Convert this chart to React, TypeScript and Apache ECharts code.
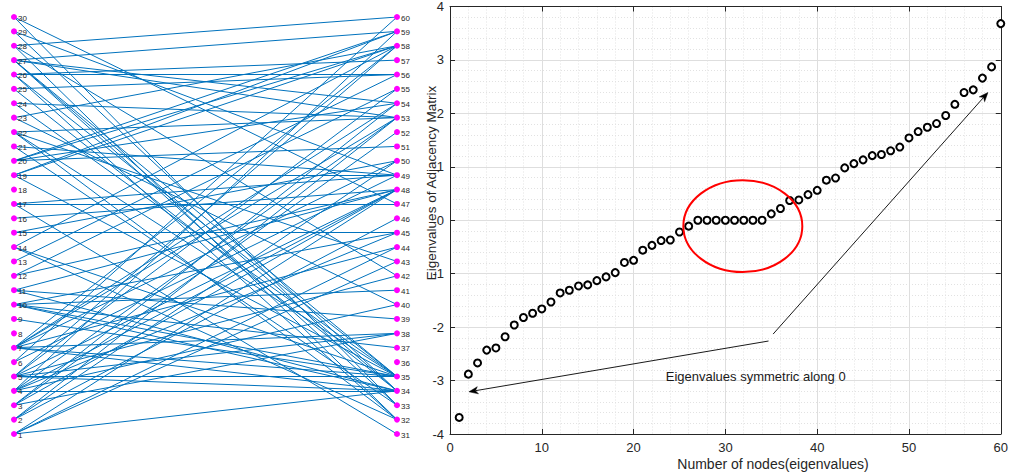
import React, { useEffect, useRef } from "react";
import * as echarts from "echarts";

// ---- data ----
const leftNodes = [1,2,3,4,5,6,7,8,9,10,11,12,13,14,15,16,17,18,19,20,21,22,23,24,25,26,27,28,29,30];
const rightNodes = [31,32,33,34,35,36,37,38,39,40,41,42,43,44,45,46,47,48,49,50,51,52,53,54,55,56,57,58,59,60];
const edges: [number, number][] = [
  [30,47],[30,33],
  [29,49],[29,34],
  [28,60],[28,32],[28,42],
  [27,59],[27,54],[27,53],[27,35],[27,34],[27,33],
  [26,57],[26,56],[26,35],[26,32],
  [25,56],[25,34],
  [24,53],[24,35],
  [23,58],[23,40],
  [22,53],[22,43],[22,35],[22,32],
  [21,49],[21,33],
  [20,58],[20,59],[20,54],[20,51],
  [19,58],[19,59],[19,49],[19,35],
  [17,47],[17,49],[17,31],
  [16,48],
  [15,50],[15,45],
  [14,58],[14,35],[14,32],
  [13,56],
  [12,55],[12,48],
  [11,48],[11,34],[11,39],
  [10,41],[10,45],[10,35],[10,37],[10,34],
  [9,35],
  [7,38],[7,35],[7,34],[7,53],[7,54],[7,58],[7,44],[7,50],
  [6,60],[6,49],
  [5,38],[5,35],[5,34],[5,58],[5,55],[5,48],[5,42],
  [4,34],[4,59],[4,53],[4,48],[4,45],[4,40],
  [3,54],[3,48],[3,52],[3,38],
  [2,53],[2,50],[2,46],
  [1,34],[1,48],[1,44],[1,43],
];
const eigIndex = [1,2,3,4,5,6,7,8,9,10,11,12,13,14,15,16,17,18,19,20,21,22,23,24,25,26,27,28,29,30,31,32,33,34,35,36,37,38,39,40,41,42,43,44,45,46,47,48,49,50,51,52,53,54,55,56,57,58,59,60];
const eigenvalues = [
  -3.69,-2.88,-2.67,-2.43,-2.39,-2.18,-1.96,-1.82,-1.74,-1.66,
  -1.53,-1.36,-1.31,-1.23,-1.21,-1.13,-1.06,-0.98,-0.79,-0.75,
  -0.56,-0.47,-0.38,-0.37,-0.22,-0.11,0,0,0,0,
  0,0,0,0,0.12,0.22,0.37,0.38,0.48,0.56,
  0.75,0.79,0.98,1.06,1.13,1.21,1.23,1.30,1.37,1.54,
  1.66,1.74,1.81,1.96,2.17,2.39,2.44,2.66,2.87,3.68,
];
const xTicks = { min: 0, max: 60, interval: 10 };
const yTicks = { min: -4, max: 4, interval: 1 };
// annotation anchors (data coordinates)
const arrowUp = { from: [35.2, -2.13], to: [58.6, 2.39] };
const arrowDown = { from: [34.7, -2.26], to: [2.07, -3.21] };
const ellipseCenter = [31.9, -0.11];
const ellipseRadii = [6.48, 0.86];
const noteAnchor = [23.5, -2.93];
const noteText = "Eigenvalues symmetric along 0";
const xTitle = "Number of nodes(eigenvalues)";
const yTitle = "Eigenvalues of Adjacency Matrix";

const FONT = "Liberation Sans, Arial, Helvetica, sans-serif";
const AXIS = "#262626";

export default function App() {
  const ref = useRef<HTMLDivElement>(null);
  useEffect(() => {
    if (!ref.current) return;
    const chart = echarts.init(ref.current, undefined, { renderer: "svg" });
    const axisCommon = {
      axisLine: { show: true, onZero: false, lineStyle: { color: AXIS, width: 1 } },
      axisTick: { show: true, inside: true, length: 5, lineStyle: { color: AXIS, width: 1 } },
    };
    const option: any = {
      animation: false,
      backgroundColor: "#fff",
      textStyle: { fontFamily: FONT },
      grid: [
        { left: 14, top: 17, width: 383, height: 417 },
        { left: 450, top: 6, width: 551, height: 428, show: false },
      ],
      xAxis: [
        { gridIndex: 0, type: "value", min: 0, max: 1, show: false },
        {
          gridIndex: 1, type: "value", position: "bottom", ...xTicks, ...axisCommon,
          axisLabel: { color: AXIS, fontSize: 13, margin: 7, fontFamily: FONT },
          splitLine: { show: true, lineStyle: { color: "#dedede", width: 1 } },
          minorTick: { show: false, splitNumber: 5 },
          minorSplitLine: { show: true, lineStyle: { color: "#e2e2e2", type: [1, 2], width: 1 } },
        },
        {
          gridIndex: 1, type: "value", position: "top", ...xTicks, ...axisCommon,
          axisLabel: { show: false }, splitLine: { show: false },
        },
      ],
      yAxis: [
        { gridIndex: 0, type: "value", min: 1, max: 30, show: false },
        {
          gridIndex: 1, type: "value", position: "left", ...yTicks, ...axisCommon,
          axisLabel: { color: AXIS, fontSize: 13, margin: 6, fontFamily: FONT },
          splitLine: { show: true, lineStyle: { color: "#dedede", width: 1 } },
          minorTick: { show: false, splitNumber: 5 },
          minorSplitLine: { show: true, lineStyle: { color: "#e2e2e2", type: [1, 2], width: 1 } },
        },
        {
          gridIndex: 1, type: "value", position: "right", ...yTicks, ...axisCommon,
          axisLabel: { show: false }, splitLine: { show: false },
        },
      ],
      series: [
        {
          type: "lines",
          coordinateSystem: "cartesian2d",
          xAxisIndex: 0,
          yAxisIndex: 0,
          silent: true,
          z: 2,
          lineStyle: { color: "#0072BD", width: 1, opacity: 1 },
          data: edges.map(([a, b]) => ({ coords: [[0, a], [1, b - 30]] })),
        },
        {
          type: "scatter",
          xAxisIndex: 0,
          yAxisIndex: 0,
          silent: true,
          z: 3,
          symbol: "circle",
          symbolSize: 6,
          itemStyle: { color: "#FF00FF", opacity: 1 },
          label: {
            show: true, position: "right", distance: 1, fontSize: 8, color: "#262626",
            fontFamily: FONT, offset: [0, 1],
            formatter: (p: any) => String(p.data[2]),
          },
          data: [
            ...leftNodes.map((n) => [0, n, n]),
            ...rightNodes.map((n) => [1, n - 30, n]),
          ],
        },
        {
          type: "scatter",
          xAxisIndex: 1,
          yAxisIndex: 1,
          silent: true,
          z: 4,
          symbol: "emptyCircle",
          symbolSize: 7,
          itemStyle: { color: "#000", borderColor: "#000", borderWidth: 2, opacity: 1 },
          data: eigIndex.map((n, i) => [n, eigenvalues[i]]),
        },
      ],
    };
    chart.setOption(option);

    const px = (p: number[]) => chart.convertToPixel({ gridIndex: 1 }, p) as number[];
    const c = px(ellipseCenter);
    const e = px([ellipseCenter[0] + ellipseRadii[0], ellipseCenter[1] + ellipseRadii[1]]);
    const note = px(noteAnchor);

    const arrow = (fromD: number[], toD: number[]) => {
      const a = px(fromD);
      const b = px(toD);
      const dx = b[0] - a[0];
      const dy = b[1] - a[1];
      const len = Math.hypot(dx, dy);
      const ux = dx / len, uy = dy / len;
      const nx = -uy, ny = ux;
      const L = 9, W = 3.6, N = 6.5;
      const notch = [b[0] - ux * N, b[1] - uy * N];
      return [
        {
          type: "line", silent: true, z: 10,
          shape: { x1: a[0], y1: a[1], x2: notch[0], y2: notch[1] },
          style: { stroke: "#000", lineWidth: 0.9 },
        },
        {
          type: "polygon", silent: true, z: 10,
          shape: {
            points: [
              [b[0], b[1]],
              [b[0] - ux * L + nx * W, b[1] - uy * L + ny * W],
              notch,
              [b[0] - ux * L - nx * W, b[1] - uy * L - ny * W],
            ],
          },
          style: { fill: "#000", stroke: "#000", lineWidth: 0.5 },
        },
      ];
    };

    chart.setOption({
      graphic: [
        ...arrow(arrowUp.from, arrowUp.to),
        ...arrow(arrowDown.from, arrowDown.to),
        {
          type: "ellipse", silent: true, z: 10,
          shape: { cx: c[0], cy: c[1], rx: Math.abs(e[0] - c[0]), ry: Math.abs(c[1] - e[1]) },
          style: { fill: "none", stroke: "#FF0000", lineWidth: 2 },
        },
        {
          type: "text", silent: true, z: 10, x: note[0], y: note[1],
          style: { text: noteText, fill: "#1a1a1a", fontSize: 13, fontFamily: FONT, align: "left", verticalAlign: "middle" },
        },
        {
          type: "text", silent: true, z: 10, x: 773, y: 464,
          style: { text: xTitle, fill: AXIS, fontSize: 14, fontFamily: FONT, align: "center", verticalAlign: "middle" },
        },
        {
          type: "text", silent: true, z: 10, x: 431, y: 183, rotation: Math.PI / 2,
          style: { text: yTitle, fill: AXIS, fontSize: 13.5, fontFamily: FONT, align: "center", verticalAlign: "middle" },
        },
      ],
    });
    return () => chart.dispose();
  }, []);
  return <div ref={ref} style={{ position: "fixed", left: 0, top: 0, width: 1011, height: 475 }} />;
}
